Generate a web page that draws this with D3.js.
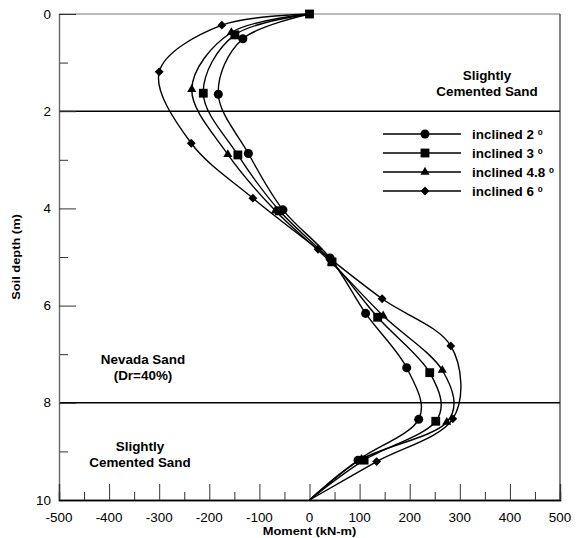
<!doctype html>
<html>
<head>
<meta charset="utf-8">
<script src="https://cdn.jsdelivr.net/npm/d3@7"></script>
<style>
  body { margin: 0; background: #fff; }
  text { font-family: "Liberation Sans", Arial, sans-serif; }
</style>
</head>
<body>
<svg id="chart" width="581" height="538"></svg>
<script>
// moment (kN-m) along the pile, depth in m
const depth2 = [0, 0.51, 1.65, 2.87, 4.03, 5.02, 6.16, 7.28, 8.34, 9.18, 10];
const moment2 = [0, -133, -182, -122, -53, 41, 112, 194, 218, 97, 0];

const depth3 = [0, 0.43, 1.63, 2.9, 4.05, 5.1, 6.24, 7.38, 8.38, 9.18, 10];
const moment3 = [0, -149, -212, -143, -60, 45, 136, 240, 252, 109, 0];

const depth48 = [0, 0.38, 1.55, 2.89, 4.05, 5.12, 6.21, 7.33, 8.4, 9.16, 10];
const moment48 = [0, -156, -235, -163, -68, 44, 147, 265, 274, 104, 0];

const depth6 = [0, 0.23, 1.19, 2.66, 3.79, 4.84, 5.86, 6.83, 8.33, 9.21, 10];
const moment6 = [0, -175, -300, -236, -113, 17, 145, 282, 286, 134, 0];

const seriesNames = ["inclined 2", "inclined 3", "inclined 4.8", "inclined 6"];
const xTicks = [-500, -400, -300, -200, -100, 0, 100, 200, 300, 400, 500];
const yTicks = [0, 2, 4, 6, 8, 10];
const layerBounds = [2, 8];

const series = [
  { name: seriesNames[0], x: moment2, y: depth2, sym: d3.symbolCircle, size: 64 },
  { name: seriesNames[1], x: moment3, y: depth3, sym: d3.symbolSquare, size: 78 },
  { name: seriesNames[2], x: moment48, y: depth48, sym: d3.symbolTriangle, size: 36 },
  { name: seriesNames[3], x: moment6, y: depth6, sym: d3.symbolDiamond2, size: 50 }
];

const svg = d3.select("#chart");
const m = { left: 59, right: 560, top: 14, bottom: 500 };
const stretch = 1.12; // the original lettering is a little wide

const x = d3.scaleLinear().domain([-500, 500]).range([m.left, m.right]);
const y = d3.scaleLinear().domain([0, 10]).range([m.top, m.bottom]);

function label(g, px, py, txt, opts) {
  const t = g.append("text")
    .attr("transform", `translate(${px},${py})` + (opts.rotate ? " rotate(-90)" : "") + ` scale(${stretch},1)`)
    .attr("text-anchor", opts.anchor || "middle")
    .attr("font-size", opts.size || 12)
    .attr("font-weight", opts.bold ? "bold" : "normal")
    .text(txt);
  return t;
}

// frame: top and right
svg.append("line").attr("x1", m.left).attr("x2", m.right).attr("y1", m.top).attr("y2", m.top)
  .attr("stroke", "#777").attr("stroke-width", 1.2);
svg.append("line").attr("x1", m.right).attr("x2", m.right).attr("y1", m.top).attr("y2", m.bottom)
  .attr("stroke", "#333").attr("stroke-width", 1.2);

// layer boundaries
svg.selectAll(".layer").data(layerBounds).enter().append("line")
  .attr("x1", m.left).attr("x2", m.right)
  .attr("y1", d => y(d)).attr("y2", d => y(d))
  .attr("stroke", "#000").attr("stroke-width", 1.5);

// y axis
const yMinor = svg.append("g").attr("transform", `translate(${m.left},0)`)
  .call(d3.axisLeft(y).tickValues([1, 3, 5, 7, 9]).tickSize(-9).tickFormat(""));
const yAxis = svg.append("g").attr("transform", `translate(${m.left},0)`)
  .call(d3.axisLeft(y).tickValues(yTicks).tickSize(-17).tickFormat(""));
[yMinor, yAxis].forEach(g => {
  g.select(".domain").attr("stroke", "#666").attr("stroke-width", 1.2);
  g.selectAll(".tick line").attr("stroke", "#333");
});
yTicks.forEach(v => label(svg, 51, y(v) + 4.5, String(v), { anchor: "end", size: 12 }));

// x axis
const xMinor = svg.append("g").attr("transform", `translate(0,${m.bottom})`)
  .call(d3.axisBottom(x).tickValues(d3.range(-450, 500, 100)).tickSize(-8).tickFormat(""));
const xAxis = svg.append("g").attr("transform", `translate(0,${m.bottom})`)
  .call(d3.axisBottom(x).tickValues(xTicks).tickSize(-16).tickFormat(""));
[xMinor, xAxis].forEach(g => {
  g.select(".domain").attr("stroke", "#000").attr("stroke-width", 1.3);
  g.selectAll(".tick line").attr("stroke", "#333");
});
xTicks.forEach(v => label(svg, x(v), 521.5, String(v), { size: 12 }));

// axis titles
label(svg, (m.left + m.right) / 2, 535, "Moment (kN-m)", { size: 11.5, bold: true });
label(svg, 20, (m.top + m.bottom) / 2, "Soil depth (m)", { size: 11.5, bold: true, rotate: true });

// curves
const line = d3.line().x(d => x(d[0])).y(d => y(d[1])).curve(d3.curveCatmullRom.alpha(0));
series.forEach(s => {
  const pts = s.x.map((v, i) => [v, s.y[i]]);
  svg.append("path").datum(pts).attr("d", line)
    .attr("fill", "none").attr("stroke", "#000").attr("stroke-width", 1.4);
  svg.selectAll(null).data(pts.slice(1, -1)).enter().append("path")
    .attr("transform", d => `translate(${x(d[0])},${y(d[1])})`)
    .attr("d", d3.symbol().type(s.sym).size(s.size)).attr("fill", "#000");
});
// marker at the pile head
svg.append("path").attr("transform", `translate(${x(0)},${y(0)})`)
  .attr("d", d3.symbol().type(d3.symbolSquare).size(78)).attr("fill", "#000");

// legend
const lg = svg.append("g");
series.forEach((s, i) => {
  const ly = 134 + i * 19;
  lg.append("line").attr("x1", 383).attr("x2", 461).attr("y1", ly).attr("y2", ly)
    .attr("stroke", "#000").attr("stroke-width", 1.4);
  lg.append("path").attr("transform", `translate(425,${ly})`)
    .attr("d", d3.symbol().type(s.sym).size(s.size)).attr("fill", "#000");
  const t = label(lg, 472, ly + 4.5, s.name + " ", { anchor: "start", size: 12, bold: true });
  t.append("tspan").attr("dy", -4).attr("font-size", 8).text("0");
});

// layer labels
const layerText = [
  { x: 487, y: 80, lines: ["Slightly", "Cemented Sand"] },
  { x: 143, y: 364, lines: ["Nevada Sand", "(Dr=40%)"] },
  { x: 140, y: 451, lines: ["Slightly", "Cemented Sand"] }
];
layerText.forEach(l => {
  l.lines.forEach((txt, i) => label(svg, l.x, l.y + i * 16, txt, { size: 12, bold: true }));
});
</script>
</body>
</html>
